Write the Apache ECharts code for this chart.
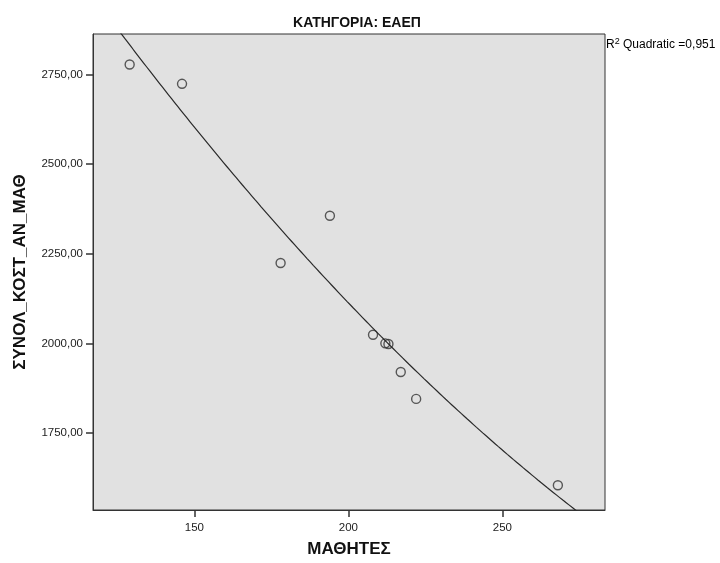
<!DOCTYPE html>
<html>
<head>
<meta charset="utf-8">
<script src="https://cdn.jsdelivr.net/npm/echarts@6/dist/echarts.min.js"></script>
<style>
  html, body { margin: 0; padding: 0; background: #ffffff; }
  #chart { width: 720px; height: 563px; }
</style>
</head>
<body>
<div id="chart"></div>
<script>
// Number of students per school and total annual cost per student
const students = [129, 146, 178, 194, 208, 212, 213, 217, 222, 268];
const costPerStudent = [2778, 2724, 2224, 2356, 2024, 2000, 1998, 1920, 1845, 1604];

// Axis ranges and tick values
const xRange = [117.1, 283.3];
const yRange = [1535, 2863];
const xTicks = [150, 200, 250];
const yTicks = [1750, 2000, 2250, 2500, 2750];

const titleText = 'ΚΑΤΗΓΟΡΙΑ: ΕΑΕΠ';
const xName = 'ΜΑΘΗΤΕΣ';
const yName = 'ΣΥΝΟΛ_ΚΟΣΤ_ΑΝ_ΜΑΘ';
const r2Text = '0,951';

// Least-squares quadratic fit y = a + b*x + c*x^2
function quadraticFit(xs, ys) {
  const n = xs.length;
  let s = [0, 0, 0, 0, 0], t = [0, 0, 0];
  for (let i = 0; i < n; i++) {
    let p = 1;
    for (let k = 0; k <= 4; k++) { s[k] += p; if (k <= 2) t[k] += p * ys[i]; p *= xs[i]; }
  }
  const M = [[s[0], s[1], s[2], t[0]], [s[1], s[2], s[3], t[1]], [s[2], s[3], s[4], t[2]]];
  for (let i = 0; i < 3; i++) {
    let piv = i;
    for (let r = i + 1; r < 3; r++) if (Math.abs(M[r][i]) > Math.abs(M[piv][i])) piv = r;
    [M[i], M[piv]] = [M[piv], M[i]];
    for (let r = 0; r < 3; r++) {
      if (r === i) continue;
      const f = M[r][i] / M[i][i];
      for (let c = i; c < 4; c++) M[r][c] -= f * M[i][c];
    }
  }
  return [M[0][3] / M[0][0], M[1][3] / M[1][1], M[2][3] / M[2][2]];
}

const coef = quadraticFit(students, costPerStudent);
const fitLine = [];
for (let x = xRange[0]; x <= xRange[1] + 1e-9; x += 0.5) {
  fitLine.push([x, coef[0] + coef[1] * x + coef[2] * x * x]);
}

const points = students.map((x, i) => [x, costPerStudent[i]]);

const chart = echarts.init(document.getElementById('chart'), null, { renderer: 'canvas' });
const labelFont = "'Liberation Sans', Arial, sans-serif";

chart.setOption({
  animation: false,
  backgroundColor: '#ffffff',
  title: {
    text: titleText,
    left: 352,
    textAlign: 'center',
    top: 11,
    textStyle: { fontFamily: labelFont, fontWeight: 'bold', fontSize: 14, color: '#111' }
  },
  graphic: [{
    type: 'text',
    left: 606,
    top: 37,
    style: {
      text: '{b|R}{s|2}{b| Quadratic =' + r2Text + '}',
      rich: {
        b: { fontFamily: labelFont, fontSize: 12, color: '#111', verticalAlign: 'bottom', lineHeight: 14 },
        s: { fontFamily: labelFont, fontSize: 9, color: '#111', verticalAlign: 'top', lineHeight: 14, padding: [0, 0, 5, 0] }
      }
    }
  }],
  grid: {
    left: 93, top: 34, width: 512, height: 478,
    show: true, backgroundColor: '#e1e1e1', borderColor: '#333', borderWidth: 1
  },
  xAxis: {
    type: 'value',
    min: xRange[0], max: xRange[1],
    name: xName, nameLocation: 'middle', nameGap: 31,
    nameTextStyle: { fontFamily: labelFont, fontWeight: 'bold', fontSize: 17, color: '#111' },
    axisLine: { show: true, lineStyle: { color: '#333', width: 1 } },
    axisTick: { show: true, length: 7, customValues: xTicks, lineStyle: { color: '#333', width: 1.5 } },
    axisLabel: { customValues: xTicks, fontFamily: labelFont, fontSize: 11.5, color: '#222', margin: 12 },
    splitLine: { show: false }
  },
  yAxis: {
    type: 'value',
    min: yRange[0], max: yRange[1],
    name: yName, nameLocation: 'middle', nameGap: 64, nameRotate: 90,
    nameTextStyle: { fontFamily: labelFont, fontWeight: 'bold', fontSize: 17, color: '#111' },
    axisLine: { show: true, lineStyle: { color: '#333', width: 1 } },
    axisTick: { show: true, length: 7, customValues: yTicks, lineStyle: { color: '#333', width: 1.5 } },
    axisLabel: {
      customValues: yTicks, fontFamily: labelFont, fontSize: 11.5, color: '#222', margin: 10,
      formatter: v => v.toFixed(2).replace('.', ',')
    },
    splitLine: { show: false }
  },
  series: [
    {
      type: 'line',
      data: fitLine,
      showSymbol: false,
      smooth: false,
      clip: true,
      lineStyle: { color: '#2a2a2a', width: 1.2 },
      silent: true
    },
    {
      type: 'scatter',
      data: points,
      symbol: 'circle',
      symbolSize: 9,
      itemStyle: { color: 'rgba(0,0,0,0)', borderColor: '#333', borderWidth: 1.4 }
    }
  ]
});
</script>
</body>
</html>
